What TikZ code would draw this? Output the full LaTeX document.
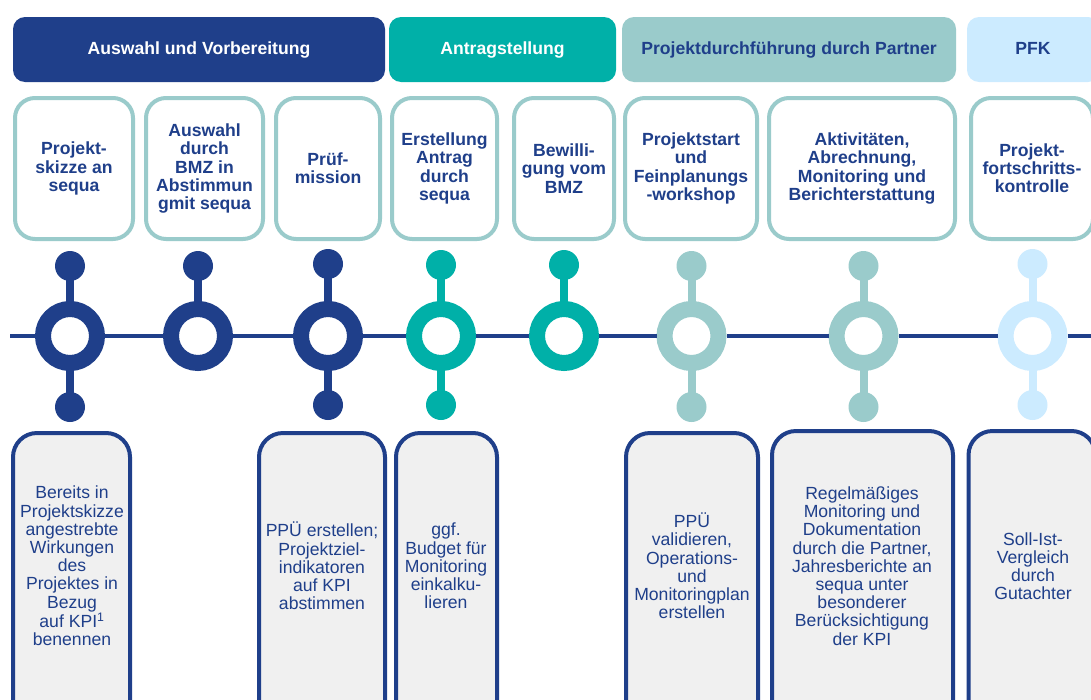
\documentclass[tikz,border=0pt]{standalone}
\usepackage{fontspec}
\setmainfont{Liberation Sans}
\definecolor{dblue}{RGB}{31,63,138}
\definecolor{tealc}{RGB}{0,176,168}
\definecolor{sage}{RGB}{154,203,203}
\definecolor{lblue}{RGB}{204,235,255}
\definecolor{gfill}{RGB}{240,240,240}
\tikzset{
  bar/.style={rectangle, rounded corners=12pt, inner sep=0pt, minimum height=65pt,
    font=\bfseries\fontsize{17.6}{18.2}\selectfont},
  topbox/.style={rectangle, rounded corners=20pt, draw=sage, line width=4pt, fill=white,
    minimum height=141pt, inner sep=0pt},
  botbox/.style={rectangle, rounded corners=24pt, draw=dblue, line width=4pt, fill=gfill,
    minimum height=300pt, inner sep=0pt},
  toptxt/.style={align=center, inner sep=0pt, text=dblue, font=\bfseries\fontsize{17.6}{18.2}\selectfont},
  bottxt/.style={align=center, inner sep=0pt, text=dblue, font=\fontsize{17.6}{18.2}\selectfont},
  ring/.style={circle, draw=#1, line width=16pt, fill=white, minimum size=54pt, inner sep=0pt, outer sep=8pt},
  knob/.style={circle, fill=#1, minimum size=30pt, inner sep=0pt, outer sep=0pt},
  stem/.style={draw=#1, line width=8pt, shorten <=-1pt, shorten >=-1pt},
  tline/.style={draw=dblue, line width=4pt},
}
\begin{document}
\begin{tikzpicture}[x=1pt, y=-1pt]
\useasboundingbox (0,0) rectangle (1091,699);
\clip (0,0) rectangle (1091,699);

% header bars
\node[bar, fill=dblue, text=white, minimum width=372pt] (h1) at (199,49.5) {Auswahl und Vorbereitung};
\node[bar, fill=tealc, text=white, minimum width=227pt] (h2) at (502.5,49.5) {\raisebox{1.5pt}{Antragstellung}};
\node[bar, fill=sage, text=dblue, minimum width=334pt] (h3) at (789,49.5) {\raisebox{1.5pt}{Projektdurchführung durch Partner}};
\node[bar, fill=lblue, text=dblue, minimum width=133pt] (h4) at (1033.5,49.5) {\hspace*{-1pt}\raisebox{2pt}{PFK}};

% top boxes
\node[topbox, minimum width=118pt] (t1) at (74,168.5) {};
\node[topbox, minimum width=117pt] (t2) at (204.5,168.5) {};
\node[topbox, minimum width=104pt] (t3) at (328,168.5) {};
\node[topbox, minimum width=105pt] (t4) at (444.5,168.5) {};
\node[topbox, minimum width=100pt] (t5) at (564,168.5) {};
\node[topbox, minimum width=132pt] (t6) at (691,168.5) {};
\node[topbox, minimum width=186pt] (t7) at (862,168.5) {};
\node[topbox, minimum width=122pt] (t8) at (1032,168.5) {};

\node[toptxt] (tt1) at (t1.center) {Projekt-\\skizze an\\sequa};
\node[toptxt] (tt2) at (t2.center) {Auswahl\\durch\\BMZ in\\Abstimmun\\gmit sequa};
\node[toptxt] (tt3) at (t3.center) {Prüf-\\mission};
\node[toptxt] (tt4) at (t4.center) {Erstellung\\Antrag\\durch\\sequa};
\node[toptxt] (tt5) at (t5.center) {Bewilli-\\gung vom\\BMZ};
\node[toptxt] (tt6) at (t6.center) {Projektstart\\und\\Feinplanungs\\-workshop};
\node[toptxt] (tt7) at (t7.center) {Aktivitäten,\\Abrechnung,\\Monitoring und\\Berichterstattung};
\node[toptxt] (tt8) at (t8.center) {Projekt-\\fortschritts-\\kontrolle};

% timeline rings
\coordinate (tl0) at (10,336);
\coordinate (tl9) at (1095,336);
\node[ring=dblue] (r1) at (70,336) {};
\node[ring=dblue] (r2) at (198,336) {};
\node[ring=dblue] (r3) at (328,336) {};
\node[ring=tealc] (r4) at (441,336) {};
\node[ring=tealc] (r5) at (564,336) {};
\node[ring=sage] (r6) at (691.5,336) {};
\node[ring=sage] (r7) at (863.5,336) {};
\node[ring=lblue] (r8) at (1032.5,336) {};
\draw[tline] (tl0) -- (r1);
\draw[tline] (r1) -- (r2);
\draw[tline] (r2) -- (r3);
\draw[tline] (r3) -- (r4);
\draw[tline] (r4) -- (r5);
\draw[tline] (r5) -- (r6);
\draw[tline] (r6) -- (r7);
\draw[tline] (r7) -- (r8);
\draw[tline] (r8) -- (tl9);

% knobs (top)
\node[knob=dblue] (k1) at (70,266) {};
\node[knob=dblue] (k2) at (198,266) {};
\node[knob=dblue] (k3) at (328,264) {};
\node[knob=tealc] (k4) at (441,265) {};
\node[knob=tealc] (k5) at (564,265) {};
\node[knob=sage] (k6) at (691.5,266) {};
\node[knob=sage] (k7) at (863.5,266) {};
\node[knob=lblue] (k8) at (1032.5,264) {};
\draw[stem=dblue] (k1) -- (r1);
\draw[stem=dblue] (k2) -- (r2);
\draw[stem=dblue] (k3) -- (r3);
\draw[stem=tealc] (k4) -- (r4);
\draw[stem=tealc] (k5) -- (r5);
\draw[stem=sage] (k6) -- (r6);
\draw[stem=sage] (k7) -- (r7);
\draw[stem=lblue] (k8) -- (r8);

% knobs (bottom)
\node[knob=dblue] (m1) at (70,407) {};
\node[knob=dblue] (m3) at (328,405) {};
\node[knob=tealc] (m4) at (441,405) {};
\node[knob=sage] (m6) at (691.5,407) {};
\node[knob=sage] (m7) at (863.5,407) {};
\node[knob=lblue] (m8) at (1032.5,405) {};
\draw[stem=dblue] (m1) -- (r1);
\draw[stem=dblue] (m3) -- (r3);
\draw[stem=tealc] (m4) -- (r4);
\draw[stem=sage] (m6) -- (r6);
\draw[stem=sage] (m7) -- (r7);
\draw[stem=lblue] (m8) -- (r8);

% bottom boxes
\node[botbox, minimum width=117pt] (b1) at (71.5,583) {};
\node[botbox, minimum width=126pt] (b3) at (322,583) {};
\node[botbox, minimum width=101pt] (b4) at (446.5,583) {};
\node[botbox, minimum width=132pt] (b6) at (692,583) {};
\node[botbox, minimum width=181pt] (b7) at (862.5,581) {};
\node[botbox, minimum width=127pt] (b8) at (1032,581) {};

\node[bottxt] (bt1) at (72,566) {Bereits in\\Projektskizze\\angestrebte\\Wirkungen\\des\\Projektes in\\Bezug\\auf KPI\textsuperscript{1}\\benennen};
\node[bottxt] (bt3) at (322,566) {PPÜ erstellen;\\Projektziel-\\indikatoren\\auf KPI\\abstimmen};
\node[bottxt] (bt4) at (446,566) {ggf.\\Budget für\\Monitoring\\einkalku-\\lieren};
\node[bottxt] (bt6) at (692,566) {PPÜ\\validieren,\\Operations-\\und\\Monitoringplan\\erstellen};
\node[bottxt] (bt7) at (862,566) {Regelmäßiges\\Monitoring und\\Dokumentation\\durch die Partner,\\Jahresberichte an\\sequa unter\\besonderer\\Berücksichtigung\\der KPI};
\node[bottxt] (bt8) at (1033,566) {Soll-Ist-\\Vergleich\\durch\\Gutachter};
\end{tikzpicture}
\end{document}
